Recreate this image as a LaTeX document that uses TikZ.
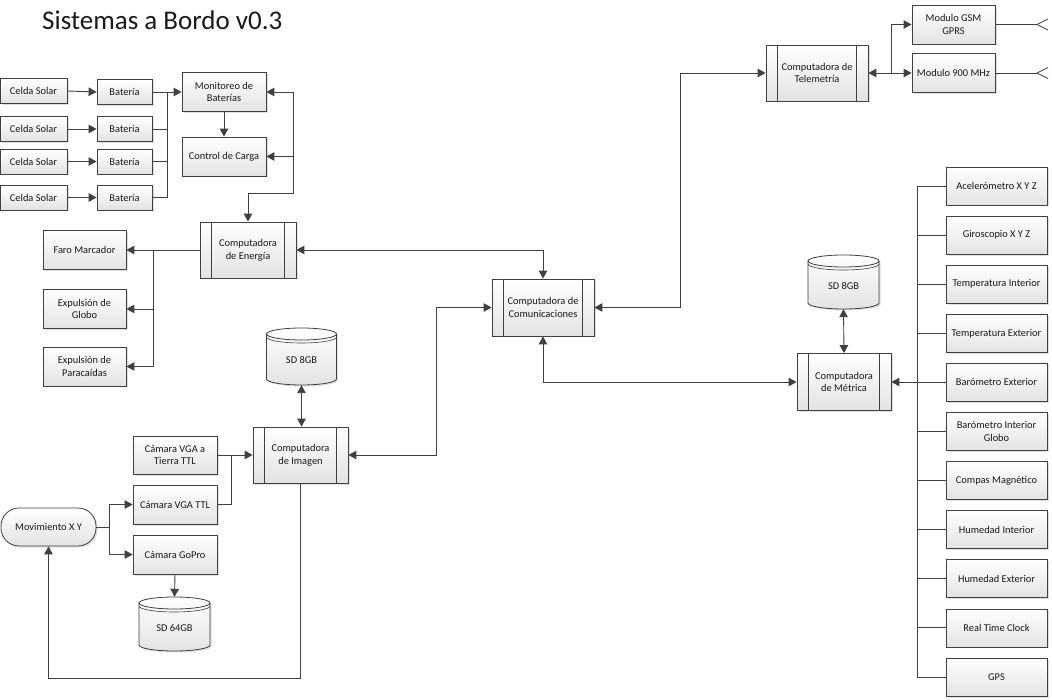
\documentclass[tikz,border=0pt]{standalone}
\usepackage{fontspec}
\setmainfont{Carlito}
\usetikzlibrary{arrows.meta,shadows}
\definecolor{lc}{HTML}{404040}
\definecolor{tc}{HTML}{1A1A1A}
\begin{document}
\begin{tikzpicture}[x=1pt,y=-1pt,
  box/.style={rectangle, draw=lc, line width=0.8pt, top color=white, bottom color=black!11,
    drop shadow={shadow xshift=1.5pt, shadow yshift=-1.5pt, opacity=0.25},
    font=\fontsize{10.4}{12.8}\selectfont, text=tc, align=center, inner sep=1pt},
  cylsty/.style={draw=lc, line width=0.8pt, top color=white, bottom color=black!11,
    drop shadow={shadow xshift=1.5pt, shadow yshift=-1.5pt, opacity=0.25}},
  lbl/.style={font=\fontsize{10.4}{12.8}\selectfont, text=tc, align=center, inner sep=0pt},
  conn/.style={draw=lc, line width=0.9pt},
  arr/.style={conn, -{Triangle[length=8pt,width=8.5pt]}},
  darr/.style={conn, {Triangle[length=8pt,width=8.5pt]}-{Triangle[length=8pt,width=8.5pt]}},
]
\fill[white] (0,0) rectangle (1052,700);
\useasboundingbox (0,0) rectangle (1052,700);

% title
\node[anchor=base west, inner sep=0pt, font=\fontsize{27}{31}\selectfont, text=tc] (title) at (42,30) {Sistemas a Bordo v0.3};

% solar / batteries
\node[box, minimum width=67, minimum height=25] (c1) at (33.5,91) {Celda Solar};
\node[box, minimum width=67, minimum height=25] (c2) at (33.5,129) {Celda Solar};
\node[box, minimum width=67, minimum height=25] (c3) at (33.5,161.5) {Celda Solar};
\node[box, minimum width=67, minimum height=25] (c4) at (33.5,197.5) {Celda Solar};
\node[box, minimum width=55, minimum height=25] (b1) at (124.5,92) {Batería};
\node[box, minimum width=55, minimum height=25] (b2) at (124.5,129) {Batería};
\node[box, minimum width=55, minimum height=25] (b3) at (124.5,161.5) {Batería};
\node[box, minimum width=55, minimum height=25] (b4) at (124.5,197.5) {Batería};
\node[box, minimum width=84, minimum height=39] (mon) at (224,92) {Monitoreo de\\Baterías};
\node[box, minimum width=84, minimum height=39] (ctrl) at (224,156.5) {Control de Carga};

% energia
\node[box, minimum width=96, minimum height=56] (ener) at (248,250) {Computadora\\de Energía};
\node[box, minimum width=83, minimum height=39] (faro) at (84.5,250) {Faro Marcador};
\node[box, minimum width=83, minimum height=39] (glob) at (84.5,309) {Expulsión de\\Globo};
\node[box, minimum width=83, minimum height=39] (para) at (84.5,366.5) {Expulsión de\\Paracaídas};

% comunicaciones, telemetria
\node[box, minimum width=102, minimum height=57] (com) at (543,307.5) {Computadora de\\Comunicaciones};
\node[box, minimum width=102, minimum height=56] (tel) at (817,73) {Computadora de\\Telemetría};
\node[box, minimum width=83, minimum height=39] (gsm) at (953.5,24.5) {Modulo GSM\\GPRS};
\node[box, minimum width=83, minimum height=39] (m900) at (953.5,73) {Modulo 900 MHz};

% metrica
\node[box, minimum width=94, minimum height=57] (met) at (844,382) {Computadora\\de Métrica};
\foreach \nm/\yy/\tx in {s1/186/{Acelerómetro X Y Z}, s2/235.1/{Giroscopio X Y Z},
  s3/284.2/{Temperatura Interior}, s4/333.3/{Temperatura Exterior}, s5/382/{Barómetro Exterior},
  s6/431.5/{Barómetro Interior\\Globo}, s7/480.6/{Compas Magnético}, s8/529.7/{Humedad Interior},
  s9/578.8/{Humedad Exterior}, s10/627.9/{Real Time Clock}, s11/677/{GPS}}
  \node[box, minimum width=101, minimum height=38] (\nm) at (996.5,\yy) {\tx};

% imagen
\node[box, minimum width=95, minimum height=56] (img) at (300.5,455) {Computadora\\de Imagen};
\node[box, minimum width=84, minimum height=38] (vgat) at (175,455) {Cámara VGA a\\Tierra TTL};
\node[box, minimum width=84, minimum height=39] (vga) at (175,504.5) {Cámara VGA TTL};
\node[box, minimum width=84, minimum height=39] (gopro) at (175,554.5) {Cámara GoPro};
\node[box, rounded corners=18pt, minimum width=95, minimum height=38] (mov) at (48.5,527) {Movimiento X Y};

% subprocess inner lines
\foreach \n in {ener,com,tel,met,img}{
  \draw[lc, line width=0.8pt] ([xshift=12pt]\n.north west) -- ([xshift=12pt]\n.south west);
  \draw[lc, line width=0.8pt] ([xshift=-12pt]\n.north east) -- ([xshift=-12pt]\n.south east);
}

% cylinders
% SD 8GB (imagen)
\path[cylsty] (266.5,334) -- (266.5,379) arc[start angle=180,end angle=360,x radius=35pt,y radius=6pt]
  -- (336.5,334) arc[start angle=0,end angle=180,x radius=35pt,y radius=6pt] -- cycle;
\draw[lc, line width=0.8pt] (266.5,334) arc[start angle=180,end angle=360,x radius=35pt,y radius=6pt];
\draw[lc, line width=0.6pt] (266.5,337) arc[start angle=180,end angle=360,x radius=35pt,y radius=6pt];
\node[inner sep=0pt, minimum width=70, minimum height=57] (sdi) at (301.5,356.5) {};
\node[lbl] (sdit) at (301.5,360) {SD 8GB};
% SD 8GB (metrica)
\path[cylsty] (808,261) -- (808,303) arc[start angle=180,end angle=360,x radius=35.5pt,y radius=6pt]
  -- (879,261) arc[start angle=0,end angle=180,x radius=35.5pt,y radius=6pt] -- cycle;
\draw[lc, line width=0.8pt] (808,261) arc[start angle=180,end angle=360,x radius=35.5pt,y radius=6pt];
\draw[lc, line width=0.6pt] (808,264) arc[start angle=180,end angle=360,x radius=35.5pt,y radius=6pt];
\node[inner sep=0pt, minimum width=71, minimum height=54] (sdm) at (843.5,282) {};
\node[lbl] (sdmt) at (843.5,286) {SD 8GB};
% SD 64GB
\path[cylsty] (139,603) -- (139,645) arc[start angle=180,end angle=360,x radius=35.5pt,y radius=6pt]
  -- (210,603) arc[start angle=0,end angle=180,x radius=35.5pt,y radius=6pt] -- cycle;
\draw[lc, line width=0.8pt] (139,603) arc[start angle=180,end angle=360,x radius=35.5pt,y radius=6pt];
\draw[lc, line width=0.6pt] (139,606) arc[start angle=180,end angle=360,x radius=35.5pt,y radius=6pt];
\node[inner sep=0pt, minimum width=71, minimum height=54] (sd64) at (174.5,624) {};
\node[lbl] (sd64t) at (174.5,628) {SD 64GB};

% ---------- connectors ----------
\foreach \i in {1,2,3,4} \draw[arr] (c\i.east) -- (b\i.west);
\draw[arr] (b1.east) -- (mon.west);
\coordinate (bbus) at (167,92);
\foreach \i in {2,3,4} \draw[conn] (b\i.east) -| (bbus);
\draw[arr] (mon.south) -- (ctrl.north);
\coordinate (ebus) at (293,193);
\coordinate (ebusc) at (293,156.5);
\draw[darr] (mon.east) -| (ebus) -| (ener.north);
\draw[arr] (ebusc) -- (ctrl.east);

\coordinate (obus) at (153,250);
\draw[arr] (ener.west) -- (faro.east);
\draw[arr] (obus) |- (glob.east);
\draw[arr] (obus) |- (para.east);

\draw[darr] (ener.east) -| (com.north);
\coordinate (ic) at (436,455);
\draw[darr] (img.east) -- (ic) |- (com.west);
\coordinate (ct) at (680,307.5);
\draw[darr] (com.east) -- (ct) |- (tel.west);
\draw[darr] (com.south) |- (met.west);

\coordinate (tbus) at (891,73);
\draw[darr] (tel.east) -- (m900.west);
\draw[arr] (tbus) |- (gsm.west);
\coordinate (a1) at (1037,24.5);
\coordinate (a2) at (1037,73);
\draw[conn] (gsm.east) -- (a1);
\draw[conn] (m900.east) -- (a2);
\foreach \a in {a1,a2}{
  \draw[lc, line width=0.8pt] (\a) -- ++(11pt,5.5pt);
  \draw[lc, line width=0.8pt] (\a) -- ++(11pt,-5.5pt);
}

\draw[darr] (sdm.south) -- (met.north);
\coordinate (mtop) at (917,186);
\coordinate (mbot) at (917,677);
\draw[conn] (mtop) -- (mbot);
\foreach \i in {1,...,11} \draw[conn] (s\i.west) -- (s\i.west -| mtop);
\draw[arr] (s5.west -| mtop) -- (met.east);

\draw[darr] (sdi.south) -- (sdi.south |- img.north);
\coordinate (cbus) at (231,455);
\draw[arr] (vgat.east) -- (img.west);
\draw[conn] (vga.east) -| (cbus);
\coordinate (mvb) at (109,527);
\draw[arr] (mov.east) -- (mvb) |- (vga.west);
\draw[arr] (mvb) |- (gopro.west);
\draw[arr] (gopro.south) -- (sd64.north);
\coordinate (lp) at (300.5,678);
\draw[arr] (img.south) -- (lp) -| (mov.south);
\end{tikzpicture}
\end{document}
